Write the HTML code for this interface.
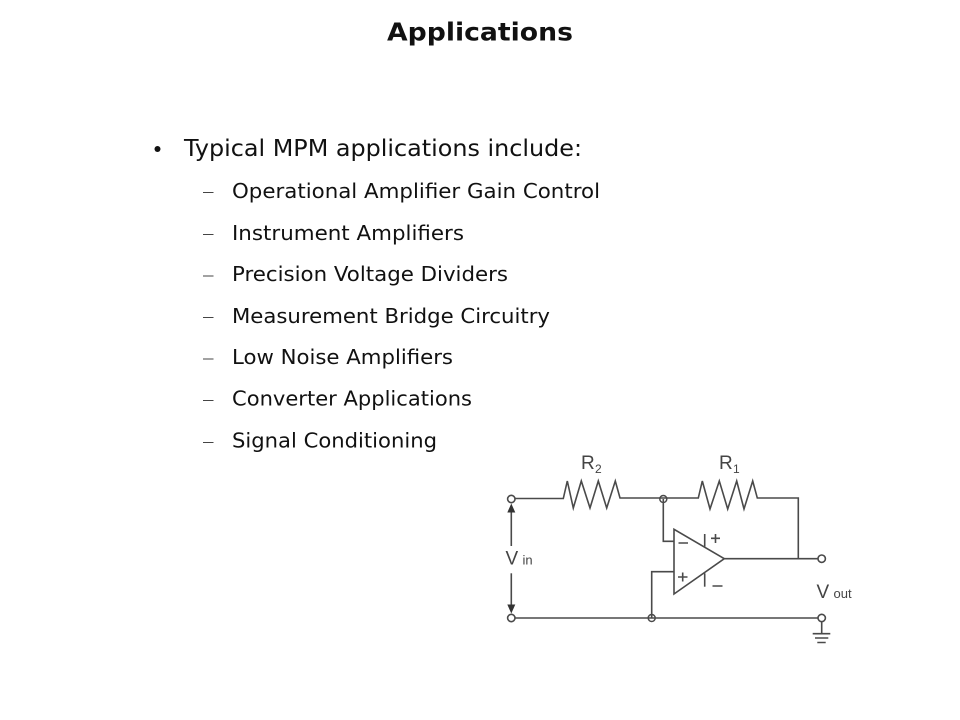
<!DOCTYPE html>
<html lang="en">
<head>
<meta charset="utf-8">
<title>Applications</title>
<style>
html,body{margin:0;padding:0;background:#fff;width:960px;height:720px;overflow:hidden}
svg{display:block}
.t{font-family:"DejaVu Sans","Liberation Sans",sans-serif;fill:#111}
.s{font-size:20px}
.d{font-family:"Liberation Sans",sans-serif;fill:#444}
.w{fill:none;stroke:#4a4a4a;stroke-width:1.6}
.c{fill:#fff;stroke:#4a4a4a;stroke-width:1.6}
</style>
</head>
<body>
<svg width="960" height="720" viewBox="0 0 960 720" xmlns="http://www.w3.org/2000/svg">
<text class="t" x="387" y="40.500" font-size="25" font-weight="bold" textLength="186" lengthAdjust="spacingAndGlyphs">Applications</text>
<circle cx="157.500" cy="149" r="3" fill="#111"/>
<text class="t" x="184" y="156" font-size="23" textLength="398" lengthAdjust="spacingAndGlyphs">Typical MPM applications include:</text>
<g fill="#444">
<rect x="203" y="192" width="10.500" height="1"/>
<rect x="203" y="234" width="10.500" height="1"/>
<rect x="203" y="275.500" width="10.500" height="1"/>
<rect x="203" y="317" width="10.500" height="1"/>
<rect x="203" y="358.500" width="10.500" height="1"/>
<rect x="203" y="400" width="10.500" height="1"/>
<rect x="203" y="442" width="10.500" height="1"/>
</g>
<text class="t s" x="232" y="198" textLength="368" lengthAdjust="spacingAndGlyphs">Operational Amplifier Gain Control</text>
<text class="t s" x="232" y="240" textLength="232" lengthAdjust="spacingAndGlyphs">Instrument Amplifiers</text>
<text class="t s" x="232" y="281" textLength="276" lengthAdjust="spacingAndGlyphs">Precision Voltage Dividers</text>
<text class="t s" x="232" y="323" textLength="318" lengthAdjust="spacingAndGlyphs">Measurement Bridge Circuitry</text>
<text class="t s" x="232" y="364" textLength="221" lengthAdjust="spacingAndGlyphs">Low Noise Amplifiers</text>
<text class="t s" x="232" y="405.500" textLength="240" lengthAdjust="spacingAndGlyphs">Converter Applications</text>
<text class="t s" x="232" y="447.500" textLength="205" lengthAdjust="spacingAndGlyphs">Signal Conditioning</text>

<!-- circuit -->
<polyline class="w" points="515,498.500 563.300,498.500 567.300,481 573.300,508 581.300,481 590,508 598.300,481 606.700,508 615.300,481 620,498 698.300,498 702.300,481 710,509 719.300,481 727.700,509 736.700,481 744,509 752.700,481 757.300,498 798.300,498 798.300,558.700"/>
<polyline class="w" points="663.300,499 663.300,541.300 674,541.300"/>
<polyline class="w" points="651.700,617.700 651.700,571.700 674,571.700"/>
<polygon class="w" points="674,529.300 674,594 724.300,558.700"/>
<line class="w" x1="724.300" y1="558.700" x2="818" y2="558.700"/>
<line class="w" x1="515" y1="618" x2="818" y2="618"/>
<line class="w" x1="704.700" y1="534" x2="704.700" y2="546.700"/>
<line class="w" x1="704.700" y1="573.300" x2="704.700" y2="586.700"/>
<path class="w" d="M711 538.300H720M715.500 534V543M712.500 586H722.500M678.500 543H688M678 577H687.500M682.700 572.500V581.500"/>
<!-- Vin arrow -->
<line class="w" x1="511.300" y1="510" x2="511.300" y2="546"/>
<line class="w" x1="511.300" y1="573.300" x2="511.300" y2="606"/>
<polygon points="511.300,503.500 507.300,512.500 515.300,512.500" fill="#333"/>
<polygon points="511.300,613.500 507.300,604.500 515.300,604.500" fill="#333"/>
<!-- ground -->
<line class="w" x1="821.700" y1="621" x2="821.700" y2="633"/>
<path class="w" d="M812.700 633.700H830.300M815 638H828.300M817.300 642.500H825.700"/>
<!-- nodes -->
<circle class="c" cx="511.300" cy="499" r="3.700"/>
<circle class="c" cx="511.300" cy="618" r="3.700"/>
<circle class="c" cx="821.700" cy="558.700" r="3.700"/>
<circle class="c" cx="821.700" cy="618" r="3.700"/>
<circle cx="663.300" cy="499" r="3.500" fill="none" stroke="#4a4a4a" stroke-width="1.500"/>
<circle cx="651.700" cy="618" r="3.500" fill="none" stroke="#4a4a4a" stroke-width="1.500"/>
<!-- labels -->
<text class="d" x="581" y="469" font-size="19">R</text>
<text class="d" x="595" y="473" font-size="12">2</text>
<text class="d" x="719" y="469" font-size="19">R</text>
<text class="d" x="733" y="473" font-size="12">1</text>
<text class="d" x="505.500" y="564.500" font-size="19">V</text>
<text class="d" x="522.500" y="564.500" font-size="13">in</text>
<text class="d" x="816.500" y="598" font-size="19">V</text>
<text class="d" x="833.500" y="598" font-size="13">out</text>
</svg>
</body>
</html>
